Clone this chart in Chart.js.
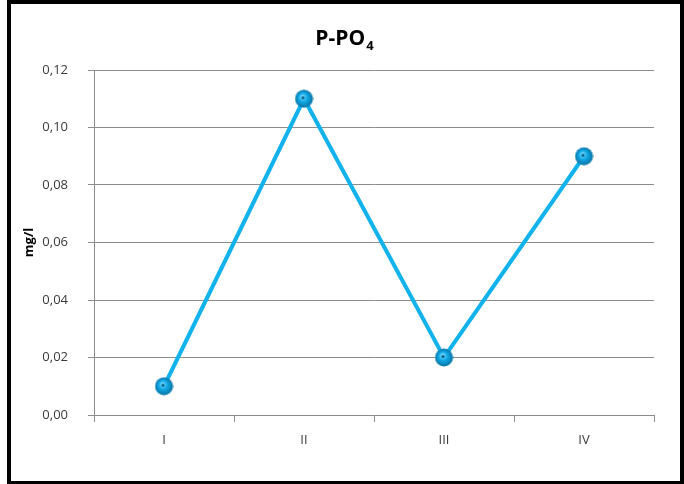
<!DOCTYPE html>
<html>
<head>
<meta charset="utf-8">
<script src="https://cdn.jsdelivr.net/npm/chart.js@4/dist/chart.umd.min.js"></script>
<style>
  html, body { margin: 0; padding: 0; background: #fff; }
  #wrap { position: relative; width: 684px; height: 484px; }
  #frame {
    position: absolute; left: 7px; top: 0; width: 677px; height: 484px;
    box-sizing: border-box; border: 4px solid #000; border-bottom-width: 3px;
    pointer-events: none;
  }
</style>
</head>
<body>
<div id="wrap">
  <canvas id="chart"></canvas>
  <div id="frame"></div>
</div>
<script>
// dati
const categories = ["I", "II", "III", "IV"];
const values = [0.01, 0.11, 0.02, 0.09];
const yTickLabels = ["0,00", "0,02", "0,04", "0,06", "0,08", "0,10", "0,12"];

const lineColor = "#12b2ec";
const gridColor = "#8c8c8c";
const fontFamily = "'Open Sans', 'Liberation Sans', sans-serif";

// marker a sfera (come in Excel)
function sphereMarker() {
    const size = 19;
    const c = document.createElement("canvas");
    c.width = size;
    c.height = size;
    const g = c.getContext("2d");
    const r = size / 2;
    const grad = g.createRadialGradient(r - 1.5, r - 2, 1, r, r, r);
    grad.addColorStop(0, "#6fd8ff");
    grad.addColorStop(0.4, "#10a8e6");
    grad.addColorStop(1, "#086f9e");
    g.fillStyle = grad;
    g.beginPath();
    g.arc(r, r, r - 0.5, 0, Math.PI * 2);
    g.fill();
    g.fillStyle = "#06587f";
    g.beginPath();
    g.arc(r - 1, r - 1, 1.5, 0, Math.PI * 2);
    g.fill();
    return c;
}

// titolo con pedice
const titlePlugin = {
    id: "titleSub",
    afterDraw(chart) {
        const ctx = chart.ctx;
        ctx.save();
        ctx.fillStyle = "#000";
        ctx.textBaseline = "alphabetic";
        ctx.textAlign = "left";
        ctx.font = "bold 21px " + fontFamily;
        const main = "P-PO";
        const wMain = ctx.measureText(main).width;
        ctx.font = "bold 13px " + fontFamily;
        const wSub = ctx.measureText("4").width;
        const x0 = 344 - (wMain + wSub) / 2;
        ctx.font = "bold 21px " + fontFamily;
        ctx.fillText(main, x0, 45);
        ctx.font = "bold 13px " + fontFamily;
        ctx.fillText("4", x0 + wMain + 1, 50);
        ctx.restore();
    }
};

new Chart(document.getElementById("chart").getContext("2d"), {
    type: "line",
    data: {
        labels: categories,
        datasets: [{
            data: values,
            borderColor: lineColor,
            borderWidth: 4,
            tension: 0,
            pointStyle: sphereMarker(),
            pointRadius: 9,
            pointHoverRadius: 9
        }]
    },
    options: {
        responsive: true,
        maintainAspectRatio: false,
        animation: false,
        layout: { padding: { left: 12, top: 70, right: 30, bottom: 5 } },
        plugins: {
            legend: { display: false },
            tooltip: { enabled: false },
            title: { display: false }
        },
        scales: {
            x: {
                offset: true,
                afterFit(scale) { scale.height = 64; },
                grid: {
                    offset: true,
                    drawOnChartArea: false,
                    drawTicks: true,
                    tickLength: 7,
                    color: gridColor
                },
                border: { color: gridColor, width: 1 },
                ticks: {
                    color: "#3a3a3a",
                    padding: 10,
                    font: { family: fontFamily, size: 13 }
                }
            },
            y: {
                min: 0,
                max: 0.12,
                afterFit(scale) { scale.width = 82; },
                grid: {
                    color: gridColor,
                    tickLength: 6
                },
                border: { color: gridColor, width: 1 },
                ticks: {
                    stepSize: 0.02,
                    color: "#3a3a3a",
                    padding: 20,
                    font: { family: fontFamily, size: 13 },
                    callback: (v, i) => yTickLabels[i]
                },
                title: {
                    display: true,
                    text: "mg/l",
                    color: "#000",
                    font: { family: fontFamily, size: 13, weight: "bold" },
                    padding: { top: 9, bottom: 0 }
                }
            }
        }
    },
    plugins: [titlePlugin]
});
</script>
</body>
</html>
